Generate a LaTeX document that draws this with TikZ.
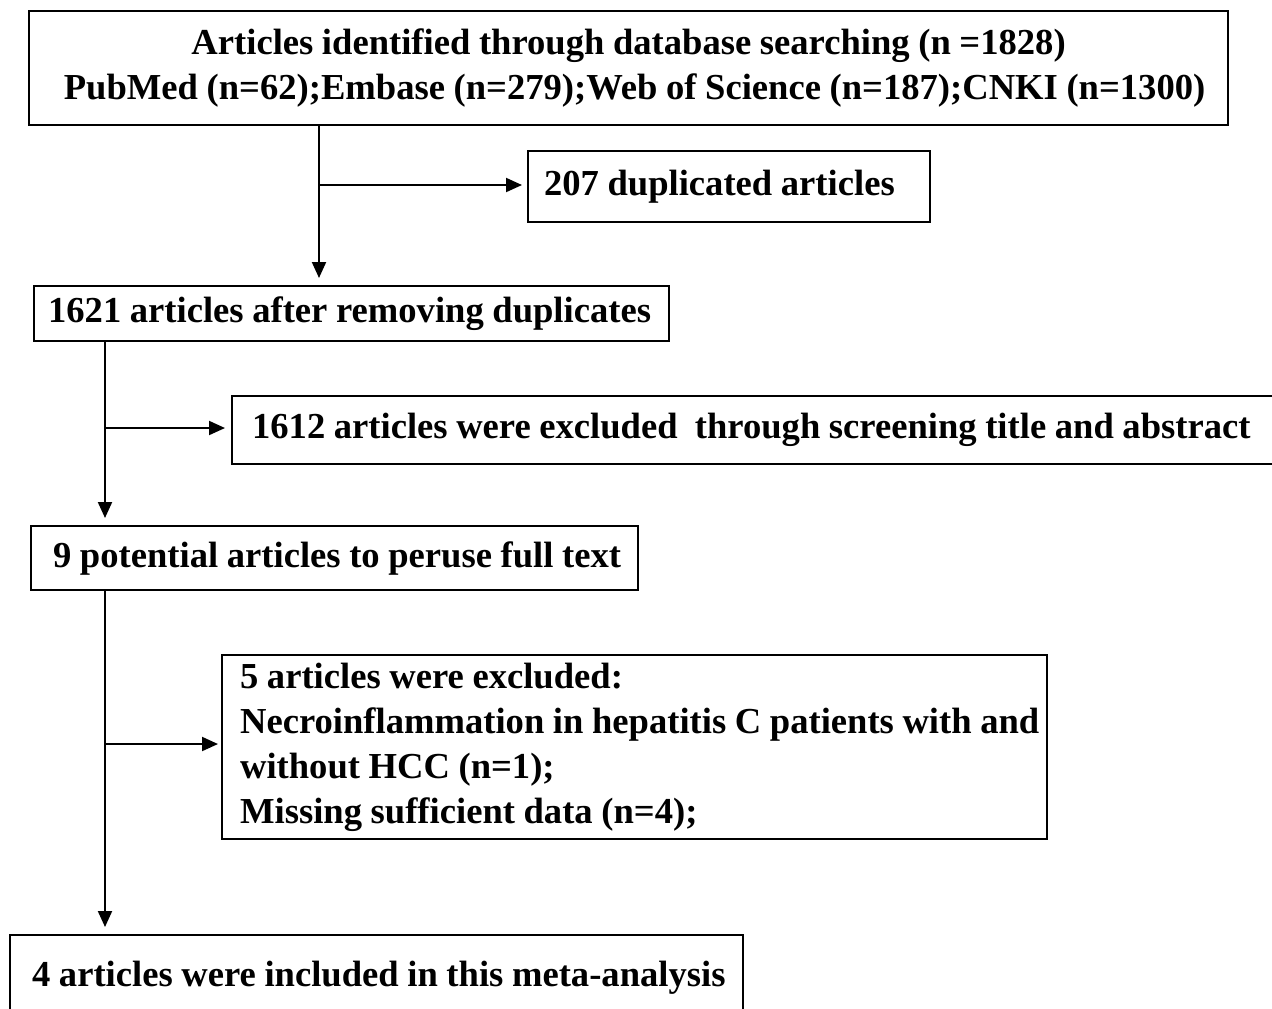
\documentclass[tikz,border=0pt]{standalone}
\usepackage{fontspec}
\setmainfont{Liberation Serif}
\usetikzlibrary{arrows.meta}
\newcommand\tightspace{\spaceskip=4.3pt plus 1pt minus 1pt\relax}
\begin{document}
\begin{tikzpicture}[x=0.5pt,y=-0.5pt,
  box/.style={draw,line width=1.1pt,anchor=north west,inner ysep=0pt,
    font=\fontsize{18.3}{22.5}\selectfont\bfseries,execute at begin node=\tightspace},
  lbox/.style={box,align=left},
  arr/.style={line width=1pt,-{Triangle[length=8pt,width=7pt]}},
  ln/.style={line width=1pt}]
\clip (0,0) rectangle (1272,1008);
\fill[white] (0,0) rectangle (1272,1008);
% boxes
\node[box,minimum width=599.5pt,minimum height=57pt,align=center,inner xsep=0pt,text width=599.5pt] (b1) at (28,10)
  {\mbox{Articles identified through database searching (n =1828)}\\
   \mbox{\hspace{6pt}PubMed (n=62);Embase (n=279);Web of Science (n=187);CNKI (n=1300)}};
\node[lbox,minimum width=201pt,minimum height=35.5pt,text width=185pt,inner xsep=8pt] (b207) at (527,150)
  {\mbox{207 duplicated articles}};
\node[lbox,minimum width=317.5pt,minimum height=27.5pt,text width=303.5pt,inner xsep=7pt] (b1621) at (33,285)
  {\mbox{1621 articles after removing duplicates}};
\node[lbox,minimum width=529.5pt,minimum height=34pt,text width=509.5pt,inner xsep=10pt] (b1612) at (231,395)
  {\mbox{1612 articles were excluded\ \ through screening title and abstract}};
\node[lbox,minimum width=303.5pt,minimum height=32pt,text width=281.5pt,inner xsep=11pt] (b9) at (30,525)
  {\mbox{9 potential articles to peruse full text}};
\node[lbox,minimum width=412.5pt,minimum height=92pt,text width=394.5pt,inner xsep=9pt] (b5) at (221,654)
  {\mbox{5 articles were excluded:}\\
   \mbox{Necroinflammation in hepatitis C patients with and}\\
   \mbox{without HCC (n=1);}\\
   \mbox{Missing sufficient data (n=4);}};
\node[lbox,minimum width=366.5pt,minimum height=43pt,text width=344.5pt,inner xsep=11pt] (b4) at (9,934)
  {\mbox{4 articles were included in this meta-analysis}};
% connectors
\coordinate (j1) at (319,185);
\coordinate (j2) at (105,428);
\coordinate (j3) at (105,744);
\draw[arr,shorten >=3.5pt] (b1.south -| j1) -- (b1621.north -| j1);
\draw[arr,shorten >=2.5pt] (j1) -- (b207.west |- j1);
\draw[arr,shorten >=3.5pt] (b1621.south -| j2) -- (b9.north -| j2);
\draw[arr,shorten >=3pt] (j2) -- (b1612.west |- j2);
\draw[arr,shorten >=3.5pt] (b9.south -| j3) -- (b4.north -| j3);
\draw[arr,shorten >=1.5pt] (j3) -- (b5.west |- j3);
\end{tikzpicture}
\end{document}
